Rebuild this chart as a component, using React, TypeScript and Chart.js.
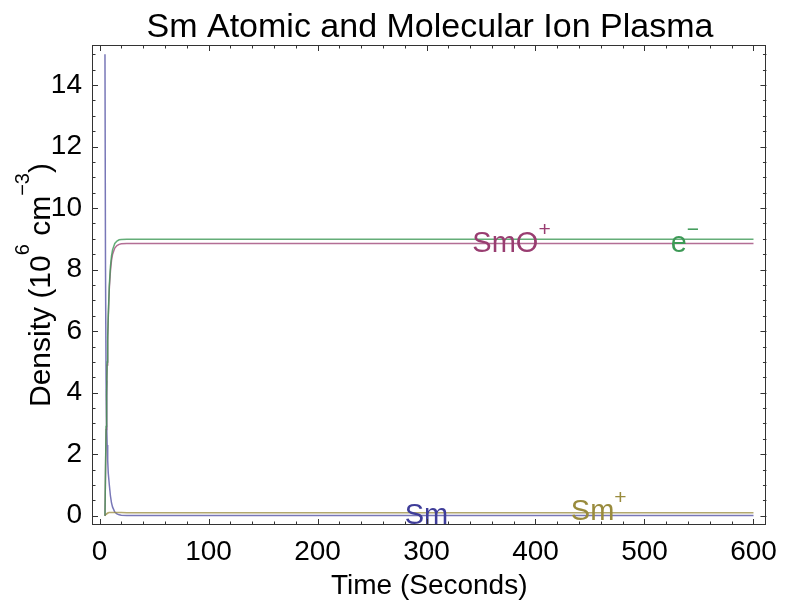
import React, { useEffect, useRef } from "react";
import { Chart, registerables } from "chart.js";

Chart.register(...registerables);

// ---------- data ----------
const timeSeconds = [5, 5.5, 6, 6.5, 7, 7.5, 8, 9, 10, 11, 12, 14, 16, 18, 20, 25, 30, 40, 60, 100, 200, 300, 400, 500, 600];
const smDensity = [15, 8.0, 4.4, 3.0, 2.3, 1.8, 1.4, 1.0, 0.65, 0.42, 0.28, 0.12, 0.06, 0.03, 0.02, 0.01, 0.01, 0.01, 0.01, 0.01, 0.01, 0.01, 0.01, 0.01, 0.01];
const smoPlusDensity = [0, 1.4, 2.8, 3.9, 4.9, 5.7, 6.4, 7.4, 7.95, 8.3, 8.5, 8.7, 8.78, 8.82, 8.84, 8.85, 8.85, 8.85, 8.85, 8.85, 8.85, 8.85, 8.85, 8.85, 8.85];
const smPlusDensity = [0, 0.03, 0.05, 0.07, 0.08, 0.09, 0.1, 0.11, 0.11, 0.11, 0.11, 0.11, 0.11, 0.11, 0.11, 0.1, 0.1, 0.1, 0.1, 0.1, 0.1, 0.1, 0.1, 0.1, 0.1];
const electronDensity = [0, 1.5, 2.9, 4.0, 5.0, 5.8, 6.5, 7.5, 8.1, 8.45, 8.65, 8.85, 8.93, 8.97, 8.98, 8.99, 8.99, 8.99, 8.99, 8.99, 8.99, 8.99, 8.99, 8.99, 8.99];

const xTickValues = [0, 100, 200, 300, 400, 500, 600];
const yTickValues = [0, 2, 4, 6, 8, 10, 12, 14];

// curve labels: base text, superscript, anchor (time, density baseline)
const labelBase = ["SmO", "e", "Sm", "Sm"];
const labelSup = ["+", "\u2212", "", "+"];
const labelTime = [378, 537, 300, 458];
const labelDensity = [8.57, 8.57, -0.27, -0.14];

const TITLE = "Sm Atomic and Molecular Ion Plasma";
const X_TITLE = "Time (Seconds)";

// ---------- styles ----------
const FONT = '"Liberation Sans", Arial, sans-serif';
const BLUE = "rgb(63,61,153)";
const MAGENTA = "rgb(153,61,113)";
const OLIVE = "rgb(153,139,61)";
const GREEN = "rgb(61,153,86)";
const labelColors = [MAGENTA, GREEN, BLUE, OLIVE];

const X_MIN = -6.9, X_MAX = 611.9, Y_MIN = -0.3, Y_MAX = 15.3;

function drawSupText(ctx: CanvasRenderingContext2D, parts: { t: string; sup: boolean }[], cx: number, baseY: number, size: number, supSize: number, raise: number) {
  let total = 0;
  const widths = parts.map((p) => {
    ctx.font = `${p.sup ? supSize : size}px ${FONT}`;
    const w = ctx.measureText(p.t).width;
    total += w;
    return w;
  });
  let x = cx - total / 2;
  ctx.textAlign = "left";
  ctx.textBaseline = "alphabetic";
  parts.forEach((p, i) => {
    ctx.font = `${p.sup ? supSize : size}px ${FONT}`;
    ctx.fillText(p.t, x, p.sup ? baseY - raise : baseY);
    x += widths[i];
  });
}

const framePlugin = {
  id: "mmaFrame",
  afterDatasetsDraw(chart: any) {
    const { ctx, scales } = chart;
    const xs = scales.x, ys = scales.y;
    ctx.save();
    for (let i = 0; i < labelBase.length; i++) {
      ctx.fillStyle = labelColors[i];
      const px = xs.getPixelForValue(labelTime[i]);
      const py = ys.getPixelForValue(labelDensity[i]);
      const parts = [{ t: labelBase[i], sup: false }];
      if (labelSup[i]) parts.push({ t: labelSup[i], sup: true });
      drawSupText(ctx, parts, px, py, 29, 21, 16);
    }
    ctx.restore();
  },
  afterDraw(chart: any) {
    const { ctx, chartArea: a, scales } = chart;
    const xs = scales.x, ys = scales.y;
    ctx.save();
    ctx.strokeStyle = "#333";
    ctx.lineWidth = 1;
    ctx.strokeRect(Math.round(a.left) + 0.5, Math.round(a.top) + 0.5, Math.round(a.right - a.left) - 1, Math.round(a.bottom - a.top) - 1);
    ctx.beginPath();
    for (let v = 0; v <= 600; v += 20) {
      const px = Math.round(xs.getPixelForValue(v)) + 0.5;
      const len = v % 100 === 0 ? 6 : 3.5;
      ctx.moveTo(px, a.bottom);
      ctx.lineTo(px, a.bottom - len);
      ctx.moveTo(px, a.top);
      ctx.lineTo(px, a.top + len);
    }
    for (let k = 0; k <= 30; k++) {
      const v = k * 0.5;
      const py = Math.round(ys.getPixelForValue(v)) + 0.5;
      const len = k % 4 === 0 ? 6 : 3.5;
      ctx.moveTo(a.left, py);
      ctx.lineTo(a.left + len, py);
      ctx.moveTo(a.right, py);
      ctx.lineTo(a.right - len, py);
    }
    ctx.stroke();

    // title
    ctx.fillStyle = "#000";
    ctx.font = `34px ${FONT}`;
    ctx.textAlign = "center";
    ctx.textBaseline = "alphabetic";
    ctx.fillText(TITLE, 430, 37);

    // x title
    ctx.font = `28px ${FONT}`;
    ctx.fillText(X_TITLE, (a.left + a.right) / 2, 594);

    // y title (rotated)
    ctx.translate(50, (a.top + a.bottom) / 2);
    ctx.rotate(-Math.PI / 2);
    drawSupText(
      ctx,
      [
        { t: "Density (10", sup: false },
        { t: "6", sup: true },
        { t: " cm", sup: false },
        { t: "\u22123", sup: true },
        { t: ")", sup: false },
      ],
      0,
      0,
      30,
      20,
      21
    );
    ctx.restore();
  },
};

function mk(values: number[]) {
  return timeSeconds.map((t, i) => ({ x: t, y: values[i] }));
}

export default function App() {
  const ref = useRef<HTMLCanvasElement>(null);
  useEffect(() => {
    if (!ref.current) return;
    const line = (label: string, values: number[], color: string) => ({
      label,
      data: mk(values),
      borderColor: color,
      borderWidth: 1.5,
      pointRadius: 0,
      tension: 0,
      fill: false,
    });
    const chart = new Chart(ref.current, {
      type: "line",
      data: {
        datasets: [
          line("e\u2212", electronDensity, "rgba(61,153,86,0.8)"),
          line("SmO+", smoPlusDensity, "rgba(153,61,113,0.75)"),
          line("Sm+", smPlusDensity, "rgba(153,139,61,0.75)"),
          line("Sm", smDensity, "rgba(63,61,153,0.7)"),
        ],
      },
      options: {
        animation: false,
        responsive: false,
        maintainAspectRatio: false,
        layout: { padding: { top: 45, right: 8, left: 0, bottom: 0 }, autoPadding: false } as any,
        plugins: { legend: { display: false }, title: { display: false }, tooltip: { enabled: false } },
        scales: {
          x: {
            type: "linear",
            min: X_MIN,
            max: X_MAX,
            grid: { display: false, drawTicks: false },
            border: { display: false },
            ticks: { font: { family: FONT, size: 28 }, color: "#000", padding: 10, maxRotation: 0, autoSkip: false },
            afterBuildTicks: (s: any) => {
              s.ticks = xTickValues.map((v) => ({ value: v }));
            },
            afterFit: (s: any) => {
              s.height = 80;
            },
          },
          y: {
            type: "linear",
            min: Y_MIN,
            max: Y_MAX,
            grid: { display: false, drawTicks: false },
            border: { display: false },
            ticks: { font: { family: FONT, size: 28 }, color: "#000", padding: 10, autoSkip: false },
            afterBuildTicks: (s: any) => {
              s.ticks = yTickValues.map((v) => ({ value: v }));
            },
            afterFit: (s: any) => {
              s.width = 92;
            },
          },
        },
      } as any,
      plugins: [framePlugin],
    });
    return () => chart.destroy();
  }, []);
  return (
    <div style={{ position: "absolute", left: 0, top: 0, width: 787, height: 605, background: "#fff" }}>
      <canvas ref={ref} width={787} height={605} />
    </div>
  );
}
